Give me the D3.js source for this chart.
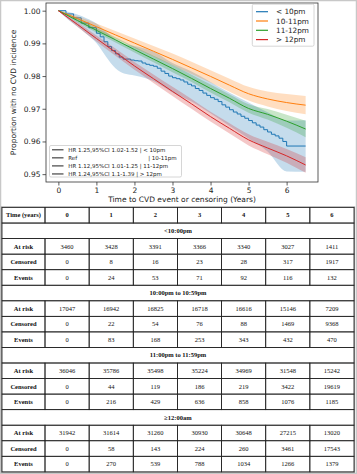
<!DOCTYPE html>
<html><head><meta charset="utf-8">
<script src="https://cdn.jsdelivr.net/npm/d3@7"></script>
<style>html,body{margin:0;padding:0;background:#fff;}svg{display:block;}</style>
</head><body>
<script>
// ---------- DATA ----------
const times = [0,0.5,1,1.5,2,2.5,3,3.5,4,4.5,5,5.5,6,6.5];
const orangeS  = [1.0000,0.9976,0.9951,0.9926,0.9901,0.9876,0.9851,0.9825,0.9799,0.9772,0.9746,0.9730,0.9719,0.9711];
const orangeHi = [1.0000,0.9983,0.9961,0.9938,0.9915,0.9892,0.9869,0.9844,0.9818,0.9792,0.9767,0.9753,0.9745,0.9739];
const orangeLo = [1.0000,0.9969,0.9941,0.9914,0.9887,0.9860,0.9833,0.9806,0.9780,0.9752,0.9725,0.9707,0.9693,0.9683];
const greenS   = [1.0000,0.9970,0.9940,0.9911,0.9881,0.9852,0.9823,0.9793,0.9762,0.9732,0.9701,0.9683,0.9662,0.9638];
const greenHi  = [1.0000,0.9975,0.9947,0.9919,0.9890,0.9862,0.9834,0.9804,0.9774,0.9744,0.9714,0.9699,0.9682,0.9663];
const greenLo  = [1.0000,0.9965,0.9933,0.9903,0.9872,0.9842,0.9812,0.9782,0.9750,0.9720,0.9688,0.9667,0.9642,0.9613];
const redS     = [1.0000,0.9958,0.9915,0.9873,0.9831,0.9792,0.9753,0.9715,0.9676,0.9640,0.9605,0.9580,0.9556,0.9528];
const redHi    = [1.0000,0.9965,0.9924,0.9884,0.9843,0.9805,0.9767,0.9730,0.9691,0.9656,0.9622,0.9599,0.9577,0.9552];
const redLo    = [1.0000,0.9951,0.9906,0.9862,0.9819,0.9779,0.9739,0.9700,0.9661,0.9624,0.9588,0.9561,0.9535,0.9504];

const blueT = [0,0.2,0.4,0.6,0.8,1.0,1.1,1.2,1.3,1.4,1.5,1.6,1.7,1.8,1.9,2.0,2.1,2.2,2.3,2.4,2.5,2.6,2.7,2.8,2.9,3.0,3.1,3.2,3.3,3.4,3.5,3.6,3.7,3.8,3.9,4.0,4.1,4.2,4.3,4.4,4.5,4.6,4.7,4.8,4.9,5.0,5.1,5.2,5.3,5.4,5.5,5.6,5.7,5.8,5.9,6.0,6.5];
const blueS = [1.0,0.9990,0.9978,0.9962,0.9948,0.9931,0.9920,0.9905,0.9890,0.9878,0.9868,0.9858,0.9852,0.9852,0.9849,0.9847,0.9846,0.9840,0.9836,0.9833,0.9830,0.9824,0.9815,0.9808,0.9800,0.9795,0.9792,0.9788,0.9782,0.9775,0.9770,0.9762,0.9756,0.9748,0.9741,0.9734,0.9729,0.9722,0.9712,0.9705,0.9697,0.9690,0.9684,0.9677,0.9671,0.9664,0.9657,0.9650,0.9644,0.9636,0.9629,0.9622,0.9617,0.9610,0.9600,0.9586,0.9586];
const blueCiT = [0,0.25,0.5,0.75,1,1.25,1.5,1.75,2,2.5,3,3.5,4,4.5,5,5.5,6,6.5];
const blueHi  = [1.0,0.9997,0.9988,0.9976,0.9961,0.9936,0.9912,0.9897,0.9892,0.9875,0.9840,0.9814,0.9782,0.9749,0.9719,0.9689,0.9664,0.9665];
const blueLo  = [1.0,0.9973,0.9952,0.9928,0.9901,0.9860,0.9824,0.9807,0.9802,0.9785,0.9750,0.9722,0.9686,0.9647,0.9609,0.9569,0.9508,0.9507];

const groupLabels = ["< 10pm","10-11pm","11-12pm","> 12pm"];
const groupColors = ["#1f77b4","#ff7f0e","#2ca02c","#d62728"];
const hrLabels = ["HR 1.25,95%CI 1.02-1.52 | < 10pm","Ref","HR 1.12,95%CI 1.01-1.25 | 11-12pm","HR 1.24,95%CI 1.1-1.39 | > 12pm"];
const hrSuffix = ["","| 10-11pm","",""];
const yTicks = [0.95,0.96,0.97,0.98,0.99,1.00];
const xTicks = [0,1,2,3,4,5,6];

const tableYears = ["0","1","2","3","4","5","6"];
const sectionTitles = ["<10:00pm","10:00pm to 10:59pm","11:00pm to 11:59pm","\u226512:00am"];
const rowLabels = ["At risk","Censored","Events"];
const atRisk   = [[3460,3428,3391,3366,3340,3027,1411],[17047,16942,16825,16718,16616,15146,7209],[36046,35786,35498,35224,34969,31548,15242],[31942,31614,31260,30930,30648,27215,13020]];
const censored = [[0,8,16,23,28,317,1917],[0,22,54,76,88,1469,9368],[0,44,119,186,219,3422,19619],[0,58,143,224,260,3461,17543]];
const events   = [[0,24,53,71,92,116,132],[0,83,168,253,343,432,470],[0,216,429,636,858,1076,1185],[0,270,539,788,1034,1266,1379]];

// ---------- DRAW ----------
const W = 357, H = 474;
const svg = d3.select("body").append("svg").attr("width",W).attr("height",H);
svg.append("rect").attr("x",0.5).attr("y",0.5).attr("width",W-1).attr("height",H-1)
  .attr("fill","#fff").attr("stroke","#c8c8c8").attr("stroke-width",1.5);

const x = d3.scaleLinear().domain([-0.325,6.825]).range([46,318]);
const y = d3.scaleLinear().domain([0.9476,1.00235]).range([182,3]);
const font = "DejaVu Sans, sans-serif";

const g = svg.append("g");
function band(ts, lo, hi, color, curve){
  const area = d3.area().x((d,i)=>x(ts[i])).y0((d,i)=>y(lo[i])).y1((d,i)=>y(hi[i])).curve(curve);
  g.append("path").attr("d",area(ts)).attr("fill",color).attr("fill-opacity",0.26).attr("stroke","none");
}
function line(ts, vs, color, curve){
  const ln = d3.line().x((d,i)=>x(ts[i])).y((d,i)=>y(vs[i])).curve(curve);
  g.append("path").attr("d",ln(ts)).attr("fill","none").attr("stroke",color).attr("stroke-width",1.0);
}
band(blueCiT, blueLo, blueHi, groupColors[0], d3.curveMonotoneX);
line(blueT, blueS, groupColors[0], d3.curveStepAfter);
band(times, orangeLo, orangeHi, groupColors[1], d3.curveMonotoneX);
line(times, orangeS, groupColors[1], d3.curveMonotoneX);
band(times, greenLo, greenHi, groupColors[2], d3.curveMonotoneX);
line(times, greenS, groupColors[2], d3.curveMonotoneX);
band(times, redLo, redHi, groupColors[3], d3.curveMonotoneX);
line(times, redS, groupColors[3], d3.curveMonotoneX);

// frame
svg.append("rect").attr("x",46).attr("y",3).attr("width",272).attr("height",179)
  .attr("fill","none").attr("stroke","#333").attr("stroke-width",0.8);

// axes
const yAxis = svg.append("g").attr("transform","translate(46,0)")
  .call(d3.axisLeft(y).tickValues(yTicks).tickFormat(d3.format(".2f")).tickSize(3.5).tickPadding(2));
const xAxis = svg.append("g").attr("transform","translate(0,182)")
  .call(d3.axisBottom(x).tickValues(xTicks).tickFormat(d3.format("d")).tickSize(3.5).tickPadding(2));
[yAxis,xAxis].forEach(a=>{
  a.select(".domain").remove();
  a.selectAll("line").attr("stroke","#333").attr("stroke-width",0.8);
  a.selectAll("text").attr("font-family",font).attr("font-size","7.5px").attr("fill","#222");
});
svg.append("text").attr("transform","translate(16,92.5) rotate(-90)").attr("text-anchor","middle")
  .attr("font-family",font).attr("font-size","7.5px").attr("fill","#222").text("Proportion with no CVD incidence");
svg.append("text").attr("x",182).attr("y",201.5).attr("text-anchor","middle")
  .attr("font-family",font).attr("font-size","7.5px").attr("fill","#222").text("Time to CVD event or censoring (Years)");

// top-right legend
const lg = svg.append("g");
lg.append("rect").attr("x",252.3).attr("y",4.2).attr("width",61.7).attr("height",42).attr("rx",1.5)
  .attr("fill","#fff").attr("fill-opacity",0.85).attr("stroke","#ccc").attr("stroke-width",0.8);
groupLabels.forEach((lab,i)=>{
  const yy = 11.7 + i*9.3;
  lg.append("line").attr("x1",256).attr("x2",268).attr("y1",yy).attr("y2",yy).attr("stroke",groupColors[i]).attr("stroke-width",1.2);
  lg.append("text").attr("x",276).attr("y",yy+2.6).attr("font-family",font).attr("font-size","7.3px").attr("fill","#222").text(lab);
});

// bottom-left legend
const lg2 = svg.append("g");
lg2.append("rect").attr("x",49.5).attr("y",145.5).attr("width",132).attr("height",31.5).attr("rx",1.5)
  .attr("fill","#fff").attr("fill-opacity",0.85).attr("stroke","#ccc").attr("stroke-width",0.8);
hrLabels.forEach((lab,i)=>{
  const yy = 149.8 + i*8.05;
  lg2.append("line").attr("x1",52).attr("x2",63.5).attr("y1",yy).attr("y2",yy).attr("stroke","#333").attr("stroke-width",1.1);
  lg2.append("text").attr("x",68.3).attr("y",yy+1.9).attr("font-family",font).attr("font-size","5.5px").attr("fill","#222").text(lab);
  if (hrSuffix[i]) lg2.append("text").attr("x",176.7).attr("y",yy+1.9).attr("text-anchor","end").attr("font-family",font).attr("font-size","5.5px").attr("fill","#222").text(hrSuffix[i]);
});

// ---------- TABLE ----------
const tTop = 207.5, rowH = 15.55, tLeft = 2, tRight = 354, c1 = 45;
const colX = d3.scaleBand().domain(tableYears).range([c1,tRight]);
const tg = svg.append("g");
const serif = "Liberation Serif, Times New Roman, serif";
const rows = [];
rows.push({type:"header"});
sectionTitles.forEach((s,k)=>{
  rows.push({type:"section",title:s});
  rows.push({type:"data",label:rowLabels[0],vals:atRisk[k]});
  rows.push({type:"data",label:rowLabels[1],vals:censored[k]});
  rows.push({type:"data",label:rowLabels[2],vals:events[k]});
});
tg.append("rect").attr("x",tLeft-0.5).attr("y",tTop-0.5).attr("width",tRight-tLeft+1).attr("height",rows.length*rowH+1)
  .attr("fill","none").attr("stroke","#999").attr("stroke-width",1.2);
rows.forEach((r,i)=>{
  const y0 = tTop + i*rowH, cy = y0 + rowH/2 + 2.2;
  const cell = (x0,w)=>tg.append("rect").attr("x",x0).attr("y",y0).attr("width",w).attr("height",rowH)
      .attr("fill","none").attr("stroke","#222").attr("stroke-width",0.8);
  if (r.type==="section"){
    cell(tLeft,tRight-tLeft);
    tg.append("text").attr("x",(tLeft+tRight)/2).attr("y",cy).attr("text-anchor","middle")
      .attr("font-family",serif).attr("font-weight","bold").attr("font-size","6.5px").attr("fill","#111").text(r.title);
    return;
  }
  cell(tLeft,c1-tLeft);
  tg.append("text").attr("x",(tLeft+c1)/2).attr("y",cy).attr("text-anchor","middle")
    .attr("font-family",serif).attr("font-weight","bold").attr("font-size","6.5px").attr("fill","#111")
    .text(r.type==="header" ? "Time (years)" : r.label);
  tableYears.forEach((yr,j)=>{
    cell(colX(yr),colX.bandwidth());
    tg.append("text").attr("x",colX(yr)+colX.bandwidth()/2).attr("y",cy).attr("text-anchor","middle")
      .attr("font-family",serif).attr("font-weight",r.type==="header"?"bold":"normal").attr("font-size","6.5px").attr("fill","#111")
      .text(r.type==="header" ? yr : r.vals[j]);
  });
});
</script>
</body></html>
